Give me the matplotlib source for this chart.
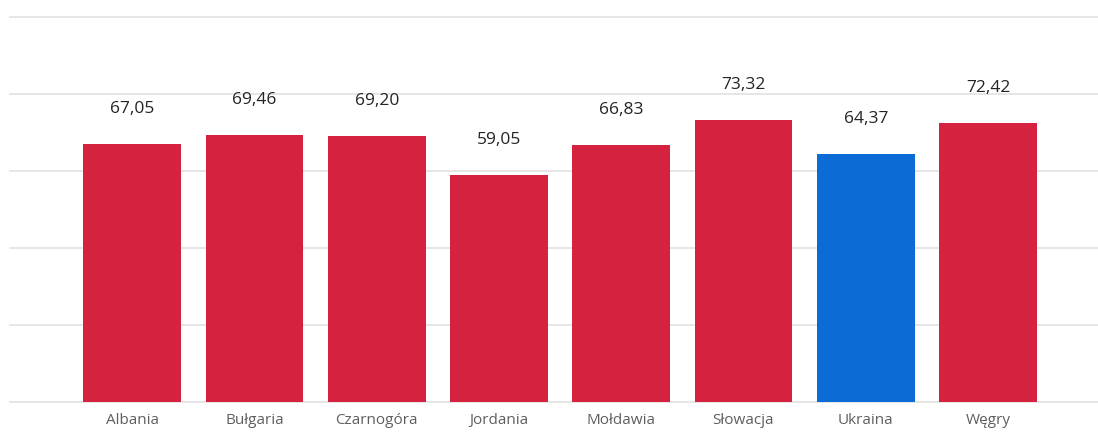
import matplotlib.pyplot as plt

countries = ["Albania", "Bułgaria", "Czarnogóra", "Jordania", "Mołdawia", "Słowacja", "Ukraina", "Węgry"]
values = [67.05, 69.46, 69.20, 59.05, 66.83, 73.32, 64.37, 72.42]
highlight = "Ukraina"

RED = "#D4223F"
BLUE = "#0B6CD6"

plt.rcParams["font.family"] = ["Open Sans", "DejaVu Sans"]

fig = plt.figure(figsize=(10.98, 4.32), dpi=100)
ax = fig.add_axes([10 / 1098, 30 / 432, 1088 / 1098, 385 / 432])

colors = [BLUE if c == highlight else RED for c in countries]
x = range(len(countries))
bars = ax.bar(x, values, width=0.8, color=colors, zorder=3)

for b, v in zip(bars, values):
    ax.annotate(f"{v:.2f}".replace(".", ","),
                (b.get_x() + b.get_width() / 2, v),
                xytext=(0, 25), textcoords="offset points",
                ha="center", va="center", fontsize=12.5, color="#252423")

ax.set_xlim(-1.0, 7.9)
ax.set_ylim(0, 100)
ax.set_yticks([0, 20, 40, 60, 80, 100])
ax.set_yticklabels([])
ax.grid(axis="y", color="#E1E1E1", linewidth=1.2, zorder=0)
ax.set_xticks(list(x))
ax.set_xticklabels(countries, fontsize=11, color="#605E5C")
ax.tick_params(axis="both", length=0)
ax.tick_params(axis="x", pad=8)
for s in ax.spines.values():
    s.set_visible(False)
for gl in ax.get_ygridlines():
    gl.set_clip_on(False)

fig.savefig("out.png", dpi=100)
